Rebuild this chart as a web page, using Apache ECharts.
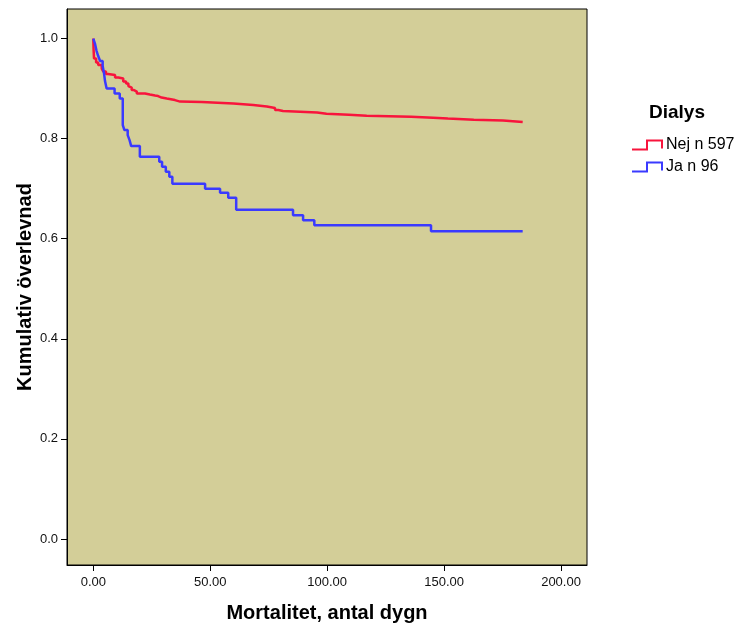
<!DOCTYPE html>
<html>
<head>
<meta charset="utf-8">
<script src="https://cdn.jsdelivr.net/npm/echarts@6/dist/echarts.min.js"></script>
<style>
  html, body { margin: 0; padding: 0; background: #fff; }
  #chart { width: 744px; height: 630px; }
</style>
</head>
<body>
<div id="chart"></div>
<script>
  // Kaplan-Meier: dagar och kumulativ överlevnad per grupp
  const nejDays = [0, 0.1, 0.3, 1.2, 2.1, 3.6, 4.3, 5.4, 6.3, 9.3, 10.7, 12.8, 14, 15, 15.7, 16.4, 17.4, 18.6, 22.1, 24.2, 26.4, 27.7, 29.2, 31.4, 34.9, 37.1, 46.4, 59.9, 68.4, 74.2, 77.7, 79.1, 81.1, 95.7, 99.7, 109.3, 116.9, 135.9, 145.3, 151.6, 162.7, 175.2, 183.6];
  const nejSurv = [1.0, 0.98, 0.96, 0.952, 0.947, 0.94, 0.934, 0.929, 0.927, 0.922, 0.92, 0.914, 0.91, 0.905, 0.902, 0.897, 0.894, 0.89, 0.888, 0.886, 0.885, 0.882, 0.88, 0.877, 0.874, 0.873, 0.870, 0.867, 0.864, 0.861, 0.857, 0.855, 0.852, 0.8496, 0.8476, 0.8456, 0.8436, 0.8416, 0.84, 0.8376, 0.8364, 0.833, 0.833];

  const jaDays = [0, 0.7, 1.4, 2.1, 2.9, 4.0, 4.6, 5.0, 5.7, 9.1, 11.3, 12.6, 13.3, 14.7, 15.5, 16.2, 19.9, 28.2, 29.4, 31, 32.5, 33.8, 47.8, 54.2, 57.7, 61.1, 85.4, 89.7, 94.5, 144.4, 183.6];
  const jaSurv = [1.0, 0.99, 0.975, 0.965, 0.955, 0.945, 0.93, 0.915, 0.90, 0.89, 0.88, 0.827, 0.817, 0.807, 0.797, 0.785, 0.764, 0.754, 0.744, 0.734, 0.724, 0.71, 0.70, 0.692, 0.682, 0.658, 0.647, 0.637, 0.627, 0.615, 0.615];

  const xTicks = [0, 50, 100, 150, 200];
  const yTicks = [0, 0.2, 0.4, 0.6, 0.8, 1.0];

  const groupNames = ['Nej n 597', 'Ja n 96'];
  const groupColors = ['#f8143c', '#3a3aff'];

  const font = "'Liberation Sans', Arial, sans-serif";
  const stepIcon = 'path://M0,9 L15,9 L15,0 L30,0 L30,8';

  const zip = (a, b) => a.map((d, i) => [d, b[i]]);

  let chart = echarts.init(document.getElementById('chart'));
  chart.setOption({
    animation: false,
    backgroundColor: '#ffffff',
    title: {
      text: 'Dialys',
      left: 649,
      top: 103,
      padding: 0,
      textStyle: { fontFamily: font, fontSize: 19, fontWeight: 'bold', color: '#000' }
    },
    legend: {
      orient: 'vertical',
      left: 631,
      top: 137,
      padding: 0,
      itemWidth: 30,
      itemHeight: 9,
      itemGap: 6,
      textStyle: { fontFamily: font, fontSize: 16, color: '#000', padding: [0, 0, 0, -1] },
      data: groupNames.map((n, i) => ({
        name: n,
        icon: stepIcon,
        itemStyle: { color: 'transparent', borderColor: groupColors[i], borderWidth: 2 }
      }))
    },
    grid: {
      left: 67,
      top: 9,
      width: 520,
      height: 556,
      show: true,
      backgroundColor: '#d3ce98',
      borderColor: '#000',
      borderWidth: 1
    },
    xAxis: {
      type: 'value',
      min: -11.25,
      max: 211.1,
      name: 'Mortalitet, antal dygn',
      nameLocation: 'middle',
      nameGap: 38,
      nameTextStyle: { fontFamily: font, fontSize: 20, fontWeight: 'bold', color: '#000' },
      axisLine: { show: true, onZero: false, lineStyle: { color: '#000', width: 1 } },
      axisTick: { show: true, length: 6, customValues: xTicks, lineStyle: { color: '#000' } },
      axisLabel: {
        customValues: xTicks,
        margin: 11,
        fontFamily: font,
        fontSize: 13,
        color: '#111',
        formatter: v => v.toFixed(2)
      },
      splitLine: { show: false }
    },
    yAxis: {
      type: 'value',
      min: -0.052,
      max: 1.059,
      name: 'Kumulativ överlevnad',
      nameLocation: 'middle',
      nameGap: 32,
      nameMoveOverlap: false,
      nameTextStyle: { fontFamily: font, fontSize: 20, fontWeight: 'bold', color: '#000' },
      axisLine: { show: true, onZero: false, lineStyle: { color: '#000', width: 1 } },
      axisTick: { show: true, length: 6, customValues: yTicks, lineStyle: { color: '#000' } },
      axisLabel: {
        customValues: yTicks,
        margin: 9,
        fontFamily: font,
        fontSize: 13,
        color: '#111',
        formatter: v => v.toFixed(1)
      },
      splitLine: { show: false }
    },
    series: [
      {
        name: groupNames[0],
        type: 'line',
        step: 'end',
        showSymbol: false,
        data: zip(nejDays, nejSurv),
        itemStyle: { color: groupColors[0] },
        lineStyle: { color: groupColors[0], width: 2.5 }
      },
      {
        name: groupNames[1],
        type: 'line',
        step: 'end',
        showSymbol: false,
        data: zip(jaDays, jaSurv),
        itemStyle: { color: groupColors[1] },
        lineStyle: { color: groupColors[1], width: 2.5 }
      }
    ]
  });
</script>
</body>
</html>
